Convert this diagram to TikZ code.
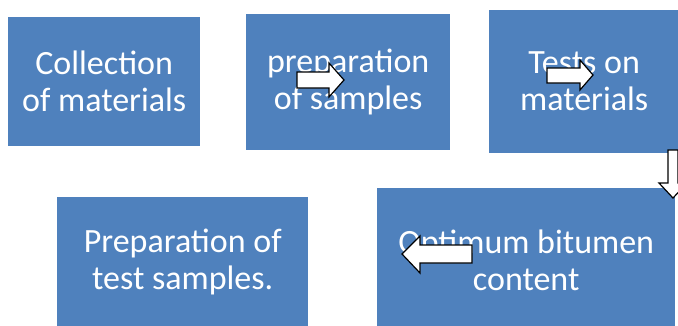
\documentclass[tikz,border=0pt]{standalone}
\usepackage{fontspec}
\setmainfont{Carlito}
\definecolor{boxblue}{HTML}{4F81BD}
\begin{document}
\begin{tikzpicture}[x=1pt,y=-1pt,
    stage/.style={fill=boxblue,text=white,align=center,anchor=north west,inner sep=0pt,
      font=\fontsize{34}{37}\selectfont},
    blockarrow/.style={draw=black,fill=white,line width=1.2pt,line join=miter}]
    \useasboundingbox (0,0) rectangle (678,325);
    \clip (0,0) rectangle (678,325);
    % the five stages
    \node[stage,minimum width=192pt,minimum height=129pt] (coll) at (8,17) {Collection\\of materials};
    \node[stage,minimum width=204pt,minimum height=136pt] (prep) at (246,14) {preparation\\of samples};
    \node[stage,minimum width=190pt,minimum height=143pt] (tests) at (489,10) {Tests on\\materials};
    \node[stage,minimum width=298pt,minimum height=144pt] (optim) at (377,188) {Optimum bitumen\\content};
    \node[stage,minimum width=251pt,minimum height=130pt] (testprep) at (57,197) {Preparation of\\test samples.};
    % block arrows
    \draw[blockarrow] (297,72) -- (329,72) -- (329,63) -- (344,80) -- (329,97) -- (329,88) -- (297,88) -- cycle;
    \draw[blockarrow] (547,68) -- (580,68) -- (580,60) -- (593,75) -- (580,90) -- (580,83) -- (547,83) -- cycle;
    \draw[blockarrow] (668,150) -- (678,150) -- (678,183) -- (687,183) -- (673,198) -- (659,183) -- (668,183) -- cycle;
    \draw[blockarrow] (472,245) -- (420,245) -- (420,236) -- (402,254) -- (420,273) -- (420,263) -- (472,263) -- cycle;
\end{tikzpicture}
\end{document}
